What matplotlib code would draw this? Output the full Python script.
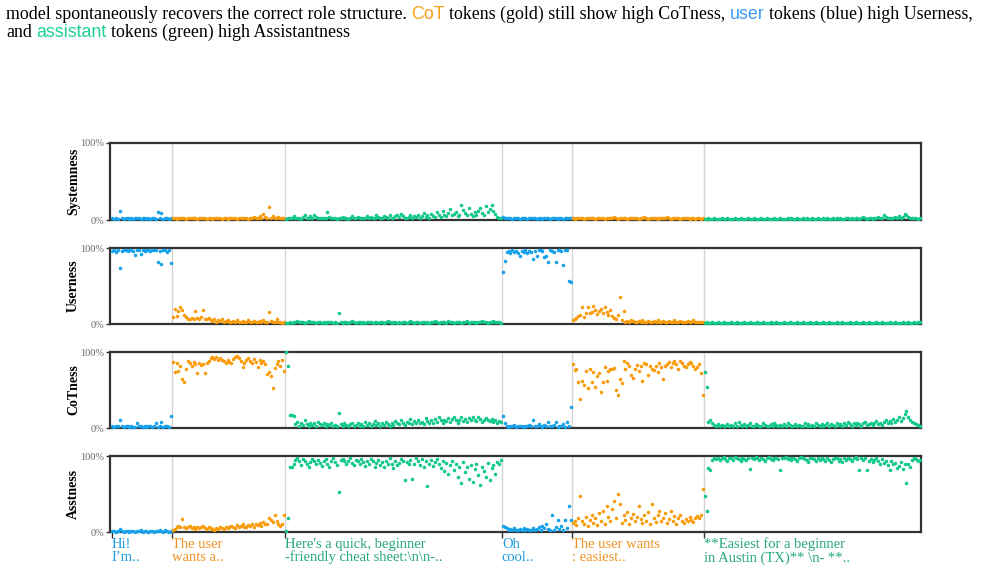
import matplotlib
matplotlib.use('Agg')
import matplotlib.pyplot as plt
import numpy as np

# ---------------- data (values in %) ----------------
segment_roles = ['user', 'cot', 'assistant', 'user', 'cot', 'assistant']
segment_labels = ["Hi!\nI\u2019m..", "The user\nwants a..",
                  "Here's a quick, beginner\n-friendly cheat sheet:\\n\\n-..",
                  "Oh\ncool..", "The user wants\n: easiest..",
                  "**Easiest for a beginner\nin Austin (TX)** \\n- **.."]
panel_names = ['Systemness', 'Userness', 'CoTness', 'Asstness']
tick_labels = ['0%', '100%']

# Systemness
sys_u1 = [2,1,2,1,12,2,1,2,3,1, 2,1,2,3,2,1,2,2,1,2, 1,2,2,1,10,2,9,1,2,2, 1,2]
sys_c1 = [2,2,1,2,2,3,2,1,2,2, 3,2,2,1,2,3,2,2,1,2, 2,1,2,2,3,2,1,2,2,1,
          2,2,3,2,1,2,2,3,2,2, 1,2,3,4,2,3,5,3,8,4, 2,17,3,5,2,3,4,2,3,2]
sys_a1 = [1,2,2,3,5,2,3,2,1,4, 6,3,2,5,3,7,4,2,2,3, 2,3,10,4,2,3,2,1,3,2,
          4,3,2,1,2,5,3,2,4,3, 2,3,2,5,3,4,2,3,6,4, 3,2,5,4,3,6,2,3,5,7,
          4,8,5,3,2,4,6,3,5,4, 7,3,5,9,4,6,3,8,5,4, 10,6,4,12,7,5,9,14,6,8,
          11,5,7,20,13,9,6,15,8,5, 10,7,12,16,9,6,18,11,14,20, 12,8,4,3,2]
sys_u2 = [4,3,2,3,2,1,2,3,2,1, 2,3,2,1,2,2,3,2,1,2, 2,1,3,2,2,1,2,2,3,1, 2,2,1,2,3,2,2]
sys_c2 = [2,1,2,2,3,2,1,2,2,3, 2,2,1,2,3,2,2,1,2,2, 3,2,4,2,1,2,3,2,2,1,
          2,2,3,2,2,1,2,3,4,2, 1,2,2,3,2,1,2,2,3,2, 4,2,1,2,2,3,2,1,2,2,
          3,2,1,2,2,1,2,2,1,2]
sys_a2 = [1,1,2,1,1,2,1,1,1,2, 1,1,2,1,1,1,2,1,1,2, 1,1,1,2,1,1,2,1,1,1,
          2,1,1,2,1,1,1,2,1,1, 2,1,1,1,2,1,2,1,1,2, 1,1,2,1,3,1,1,2,1,1,
          2,1,1,3,1,2,1,1,2,1, 3,1,2,1,1,2,3,1,2,1, 2,3,1,2,4,2,1,3,2,1,
          2,3,4,2,3,7,4,3,2,3, 2,4,3,5,3,4,8,6,4,3, 2,3,2,1,2]

# Userness
usr_u1 = [96,97,95,97,74,96,98,97,96,98, 97,96,91,98,97,92,97,96,98,97,
          96,97,98,97,81,96,79,98,97,95, 97,80]
usr_c1 = [9,20,10,17,22,18,12,9,6,7, 8,7,17,8,7,9,18,6,7,8, 5,4,6,3,5,4,6,3,4,5,
          3,2,4,3,5,2,3,4,2,3, 5,3,2,4,3,2,4,3,5,2, 3,16,4,2,3,6,3,2,1,2]
usr_a1 = [1,1,2,1,3,2,4,2,3,2, 1,3,4,2,3,2,1,2,3,1, 2,1,2,3,2,1,2,1,15,2,
          1,2,3,1,2,4,2,1,3,2, 1,2,1,3,2,2,1,3,2,1, 2,3,1,2,4,2,1,2,3,1,
          2,1,3,2,1,2,4,2,1,3, 2,1,2,3,1,2,1,3,2,4, 2,1,2,3,2,1,4,2,3,1,
          2,3,2,1,3,2,4,1,2,3, 2,1,3,2,4,3,2,1,3,2, 4,3,2,3,1]
usr_u2 = [69,83,95,96,93,97,95,96,94,90, 96,95,97,93,96,95,85,96,90,97,
          98,96,88,89,81,97,96,95,82,97, 98,96,77,97,98,57,55]
usr_c2 = [5,7,8,10,12,22,9,15,22,14, 16,24,18,13,17,20,15,22,16,12,
          18,10,8,7,12,35,5,17,3,4, 3,5,4,3,2,4,3,5,2,3, 4,3,2,4,3,5,3,2,4,3,
          2,4,3,2,5,3,2,4,3,2, 3,4,2,3,5,3,2,3,2,2]
usr_a2 = [1,2,1,1,2,1,1,2,1,1, 2,1,1,1,2,1,1,2,1,1, 1,2,1,1,2,1,1,1,2,1,
          1,2,1,1,1,2,1,1,2,1, 1,1,2,1,1,2,1,1,1,2, 1,1,2,1,1,1,2,1,1,2,
          1,1,1,2,1,1,2,1,1,1, 2,1,1,2,1,1,1,2,1,1, 2,1,1,1,2,1,1,2,1,1,
          1,2,1,1,2,1,1,1,2,1, 1,2,1,1,1,2,1,1,2,1, 1,2,1,3,2]

# CoTness
cot_u1 = [2,1,3,2,10,2,1,2,3,1, 2,1,1,7,2,3,1,2,1,2, 3,1,2,7,1,2,8,1,3,2, 1,16]
cot_c1 = [87,74,86,75,81,64,61,78,88,85, 82,87,84,72,86,83,84,73,85,88,
          92,94,91,93,90,92,89,88,86,90, 87,85,91,93,95,92,88,80,86,90,
          92,88,85,91,87,80,89,85,88,84, 71,74,69,53,79,84,88,82,90,75]
cot_a1 = [100,82,17,17,16,5,8,3,6,4, 10,5,3,7,4,6,3,8,5,4, 7,3,5,4,6,3,4,2,20,5,
          3,6,4,2,5,7,3,4,6,2, 5,3,8,4,6,3,5,9,4,7, 3,6,4,8,5,3,7,4,9,6,
          5,10,7,4,8,6,12,5,9,7, 11,6,8,5,13,9,7,10,6,12, 8,14,10,7,11,9,13,8,12,15,
          10,7,11,14,9,12,8,13,10,15, 11,9,14,12,8,10,13,11,9,12, 8,10,7,9,8]
cot_u2 = [16,7,2,1,3,2,4,1,2,3, 2,1,3,2,4,2,10,3,2,5, 3,1,4,2,8,3,2,4,8,1, 3,2,5,1,8,2,27]
cot_c2 = [84,76,78,60,38,62,57,75,52,77, 60,74,54,68,72,48,60,80,62,75,
          78,77,79,50,44,65,59,88,78,85, 82,70,66,78,83,75,82,62,86,84,
          70,82,78,76,81,74,85,80,64,82, 84,87,80,85,88,84,78,88,86,82,
          80,84,87,85,81,78,80,84,73,44]
cot_a2 = [74,54,8,10,6,4,3,5,2,4, 3,2,5,3,4,2,6,3,8,4, 2,5,3,4,6,2,3,5,4,2,
          3,6,4,3,2,5,3,7,4,2, 4,3,5,2,6,4,3,2,5,3, 4,2,3,6,3,5,2,4,3,6,
          4,3,5,2,4,6,3,5,4,3, 7,4,5,3,6,4,8,5,3,6, 4,7,5,3,6,8,4,5,7,4,
          6,9,5,7,4,8,10,6,9,7, 12,8,11,15,9,13,18,22,14,10, 8,6,5,4,3]

# Asstness
ast_u1 = [1,1,0,1,4,1,0,1,1,0, 1,1,0,1,1,2,0,1,1,0, 1,1,0,1,1,2,1,0,3,1, 0,1]
ast_c1 = [2,4,6,8,7,17,6,5,7,8, 5,6,4,7,5,6,8,5,4,6, 5,4,3,5,4,6,5,4,7,5,
          6,8,7,5,9,6,8,10,7,6, 9,8,11,7,10,9,12,8,13,11, 10,19,16,13,22,14,10,8,11,22]
ast_a1 = [1,18,85,86,90,95,97,93,88,96, 94,90,85,92,96,94,89,95,91,87,
          93,96,90,86,94,97,92,88,53,95, 96,93,90,94,97,91,88,95,93,89,
          96,92,87,94,90,96,93,85,91,95, 88,92,86,94,90,97,89,84,93,88,
          91,96,94,68,92,89,95,70,90,97, 93,88,96,86,94,61,90,95,87,92,
          96,89,84,93,80,91,76,88,94,82, 90,73,86,64,92,79,85,70,88,66,
          83,90,75,62,86,80,73,91,68,84, 88,76,92,90,95]
ast_u2 = [8,6,5,3,4,2,5,3,2,4, 3,5,2,4,3,2,5,3,4,6, 3,8,5,10,4,2,22,3,6,16,
          4,8,3,16,5,34,16]
ast_c2 = [12,15,9,18,48,14,10,20,8,16, 22,12,18,9,25,14,28,11,34,20,
          15,30,41,18,50,37,12,22,16,26, 10,19,24,14,20,34,17,12,23,15,
          26,11,37,18,13,22,27,14,19,25, 12,17,28,14,21,11,18,23,15,12,
          17,14,20,16,13,18,21,19,22,57]
ast_a2 = [47,27,84,82,95,97,96,98,95,97, 99,96,94,98,97,95,99,97,96,94,
          98,96,95,97,83,98,96,99,97,95, 98,96,94,97,99,96,95,98,97,96,
          82,98,97,99,96,97,95,98,96,94, 97,99,98,96,95,92,97,98,96,94,
          97,95,98,96,93,97,95,92,96,98, 97,94,96,92,97,95,98,96,93,97,
          99,96,82,98,95,97,82,94,96,92, 95,97,93,90,96,91,94,88,82,93,
          89,91,84,87,92,83,89,64,90,86, 95,97,96,93,95]

panels = [
    [sys_u1, sys_c1, sys_a1, sys_u2, sys_c2, sys_a2],
    [usr_u1, usr_c1, usr_a1, usr_u2, usr_c2, usr_a2],
    [cot_u1, cot_c1, cot_a1, cot_u2, cot_c2, cot_a2],
    [ast_u1, ast_c1, ast_a1, ast_u2, ast_c2, ast_a2],
]

# ---------------- style ----------------
point_colors = {'user': '#16a2ea', 'cot': '#f99c0c', 'assistant': '#12c98b'}
label_colors = {'user': '#1f9ae0', 'cot': '#ee9120', 'assistant': '#25a877'}
serif = ['Liberation Serif', 'DejaVu Serif']

W, H = 987, 572
fig = plt.figure(figsize=(W / 100, H / 100), dpi=100)

seg_lengths = [len(s) for s in panels[0]]
starts = np.concatenate([[0], np.cumsum(seg_lengths)[:-1]])
total = int(np.sum(seg_lengths))
boundaries = starts - 0.5

left_px, right_px = 110, 921
panel_px = [(143, 220), (248, 324), (352, 428), (456, 532)]

axes = []
for pi, (top, bot) in enumerate(panel_px):
    ax = fig.add_axes([left_px / W, 1 - bot / H, (right_px - left_px) / W, (bot - top) / H])
    axes.append(ax)
    for b in boundaries[1:]:
        ax.axvline(b, color='#d4d4d4', lw=1.0, zorder=0)
    for si, seg in enumerate(panels[pi]):
        x = starts[si] + np.arange(len(seg))
        y = np.array(seg) / 100.0
        ax.scatter(x, y, s=6.5, color=point_colors[segment_roles[si]], linewidths=0,
                   zorder=3, clip_on=False)
    ax.set_xlim(-1.3, total - 0.3)
    ax.set_ylim(0, 1)
    ax.set_yticks([0, 1])
    ax.set_yticklabels(tick_labels, fontfamily=serif, fontsize=7.5, color='#6a6a6a')
    ax.tick_params(axis='y', length=3, width=1, color='#333333', pad=1)
    for sp in ax.spines.values():
        sp.set_color('#333333')
        sp.set_linewidth(1.6)
    ax.set_ylabel(panel_names[pi], fontfamily=serif, fontsize=10, fontweight='bold')
    ax.yaxis.set_label_coords(-0.037, 0.5)
    if pi < 3:
        ax.set_xticks([])
    else:
        ax.set_xticks(boundaries)
        ax.set_xticklabels([''] * len(boundaries))
        ax.tick_params(axis='x', length=4, width=1, color='#333333')
        for si, lab in enumerate(segment_labels):
            ax.text(boundaries[si], -0.075, lab, transform=ax.get_xaxis_transform(),
                    ha='left', va='top', fontfamily=serif, fontsize=10.5,
                    color=label_colors[segment_roles[si]], linespacing=1.0)

# ---------------- caption ----------------
cap_lines = [
    [("model spontaneously recovers the correct role structure.", 'k', 'serif'),
     ("CoT", '#f7a21b', 'sans'),
     ("tokens (gold) still show high CoTness,", 'k', 'serif'),
     ("user", '#3d9bf5', 'sans'),
     ("tokens (blue) high Userness,", 'k', 'serif')],
    [("and", 'k', 'serif'),
     ("assistant", '#1fd09c', 'sans'),
     ("tokens (green) high Assistantness", 'k', 'serif')],
]
fam = {'serif': serif, 'sans': ['Liberation Sans', 'DejaVu Sans']}
fig.canvas.draw()
renderer = fig.canvas.get_renderer()
cap_fs = 12.9
tmp = fig.text(0, 0, "a a", fontfamily=serif, fontsize=cap_fs)
tmp2 = fig.text(0, 0, "aa", fontfamily=serif, fontsize=cap_fs)
space_w = tmp.get_window_extent(renderer).width - tmp2.get_window_extent(renderer).width
tmp.remove(); tmp2.remove()
baselines = [19, 37]
for li, line in enumerate(cap_lines):
    xpx = 6
    for k, (txt, col, f) in enumerate(line):
        t = fig.text(xpx / W, 1 - baselines[li] / H, txt, fontfamily=fam[f],
                     fontsize=cap_fs if f == 'serif' else cap_fs * 1.0,
                     color=col, va='baseline', ha='left')
        ext = t.get_window_extent(renderer)
        xpx = ext.x1 + space_w

fig.savefig('out.png', dpi=100)
